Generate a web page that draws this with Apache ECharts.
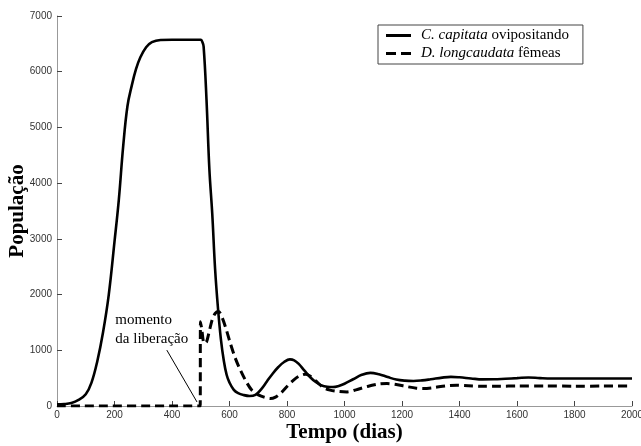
<!DOCTYPE html>
<html>
<head>
<meta charset="utf-8">
<script src="https://cdn.jsdelivr.net/npm/echarts@6/dist/echarts.min.js"></script>
<style>html,body{margin:0;padding:0;background:#fff}#c{width:641px;height:446px}</style>
</head>
<body>
<div id="c"></div>
<script>
// C. capitata ovipositando
var capTimes = [0,25,50,75,100,120,140,160,180,200,215,230,245,260,275,290,310,330,360,400,450,500,505,510,520,530,540,550,560,570,580,590,600,615,630,650,670,690,710,730,750,770,790,810,825,840,860,880,900,920,940,960,980,1000,1030,1060,1090,1120,1150,1180,1210,1240,1270,1300,1340,1370,1400,1440,1480,1520,1560,1600,1640,1680,1720,1800,1900,2000];
var capValues = [30,35,55,110,210,420,800,1320,1995,2950,3700,4650,5380,5750,6050,6260,6440,6530,6570,6575,6575,6575,6540,6450,5500,4250,3450,2450,1750,1200,820,560,420,290,230,195,180,200,300,440,580,700,790,836,820,760,640,520,430,370,345,340,360,400,480,560,595,570,520,475,455,450,460,480,510,523,515,495,478,480,490,500,512,500,493,493,493,493];
// D. longcaudata fêmeas
var lonTimes = [0,498,499,503,512,520,530,540,550,562,575,590,603,620,638,660,678,700,720,742,760,780,800,820,840,864,880,900,927,950,980,1009,1040,1080,1120,1148,1180,1220,1250,1275,1310,1350,1391,1430,1480,1540,1600,1700,1800,1900,2000];
var lonValues = [0,0,1514,1400,1124,1150,1350,1550,1660,1694,1580,1350,1124,860,643,420,283,200,160,133,160,240,350,450,530,571,540,450,331,285,260,252,290,350,395,403,385,345,320,313,330,360,373,365,355,355,360,360,355,358,360];
var seriesNames = ['C. capitata ovipositando', 'D. longcaudata fêmeas'];
var releaseArrow = [[382, 1003], [487, 72]];
var releaseLabelPos = [203, 1720];

function pairs(ts, vs) { return ts.map(function (t, i) { return [t, vs[i]]; }); }

var chart = echarts.init(document.getElementById('c'), null, {renderer: 'canvas'});
var serif = '"Liberation Serif", "Times New Roman", serif';
var sans = '"Liberation Sans", Arial, sans-serif';
chart.setOption({
  animation: false,
  backgroundColor: '#fff',
  grid: {left: 57, right: 9, top: 16, bottom: 40, containLabel: false, outerBoundsMode: 'none'},
  legend: {
    left: 378, top: 25, orient: 'vertical',
    borderColor: '#444', borderWidth: 1,
    padding: [3, 14, 3, 8], itemGap: 3,
    itemWidth: 25, itemHeight: 3,
    textStyle: {fontFamily: serif, fontSize: 15, color: '#000', padding: [0, 0, 0, 5],
      rich: {i: {fontFamily: serif, fontSize: 15, fontStyle: 'italic', color: '#000'}}},
    formatter: function (n) {
      var p = n.split(' ');
      return '{i|' + p.slice(0, p.length - 1).join(' ') + '} ' + p[p.length - 1];
    },
    data: [
      {name: seriesNames[0], icon: 'rect'},
      {name: seriesNames[1], icon: 'path://M0,0h10v3h-10zM15,0h10v3h-10z'}
    ]
  },
  xAxis: {
    type: 'value', min: 0, max: 2000, interval: 200,
    name: 'Tempo (dias)', nameLocation: 'middle', nameGap: 16, nameMoveOverlap: false,
    nameTextStyle: {fontFamily: serif, fontSize: 21, fontWeight: 'bold', color: '#000'},
    axisLine: {lineStyle: {color: '#999', width: 1}},
    axisTick: {inside: true, length: 5, lineStyle: {color: '#444'}},
    axisLabel: {fontSize: 10, color: '#333', margin: 4, fontFamily: sans, formatter: function (v) { return String(v); }},
    splitLine: {show: false}
  },
  yAxis: {
    type: 'value', min: 0, max: 7000, interval: 1000,
    name: 'População', nameLocation: 'middle', nameGap: 29, nameMoveOverlap: false,
    nameTextStyle: {fontFamily: serif, fontSize: 21, fontWeight: 'bold', color: '#000'},
    axisLine: {show: true, lineStyle: {color: '#999', width: 1}},
    axisTick: {show: true, inside: true, length: 5, lineStyle: {color: '#444'}},
    axisLabel: {fontSize: 10, color: '#333', margin: 5, fontFamily: sans, formatter: function (v) { return String(v); }},
    splitLine: {show: false}
  },
  series: [
    {
      name: seriesNames[0], type: 'line', data: pairs(capTimes, capValues),
      showSymbol: false, symbol: 'none', smooth: 0.4,
      lineStyle: {color: '#000', width: 2.6}, itemStyle: {color: '#000'},
      markLine: {
        silent: true, symbol: ['none', 'arrow'], symbolSize: [0, 9],
        label: {show: false},
        lineStyle: {color: '#000', width: 1, type: 'solid'},
        data: [[{coord: releaseArrow[0]}, {coord: releaseArrow[1]}]]
      },
      markPoint: {
        silent: true, symbol: 'circle', symbolSize: 0,
        data: [{coord: releaseLabelPos}],
        label: {show: true, position: 'inside', align: 'left', verticalAlign: 'top',
          formatter: 'momento\nda liberação', fontFamily: serif, fontSize: 15, lineHeight: 19, color: '#000'}
      }
    },
    {
      name: seriesNames[1], type: 'line', data: pairs(lonTimes, lonValues),
      showSymbol: false, symbol: 'none', smooth: 0.3,
      lineStyle: {color: '#000', width: 3, type: [9, 5]}, itemStyle: {color: '#000'}
    }
  ]
});
</script>
</body>
</html>
